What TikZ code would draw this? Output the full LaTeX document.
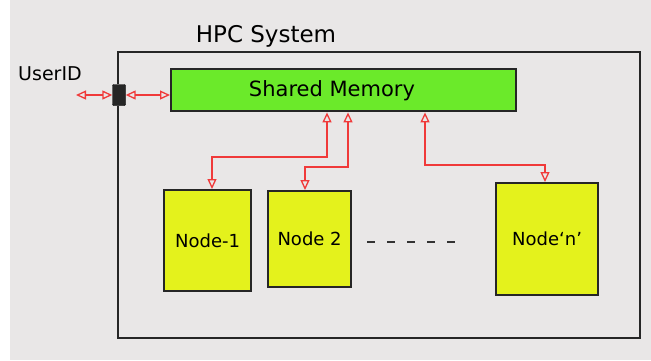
\documentclass[tikz,border=0pt]{standalone}
\usepackage{fontspec}
\setmainfont{DejaVu Sans}
\usetikzlibrary{arrows.meta}
\definecolor{paper}{HTML}{E9E7E7}
\definecolor{memgreen}{HTML}{6BEA2A}
\definecolor{nodeyellow}{HTML}{E4F21C}
\definecolor{wire}{HTML}{F03A3A}
\begin{document}
\begin{tikzpicture}[x=1pt,y=-1pt,
  sysbox/.style={draw=black!85,line width=2.4pt},
  membox/.style={draw=black!85,line width=2.4pt,fill=memgreen,minimum width=345pt,minimum height=42pt,inner sep=0pt},
  cpubox/.style={draw=black!85,line width=2.2pt,fill=nodeyellow,inner sep=0pt,font=\fontsize{18}{21}\selectfont},
  portbox/.style={draw=black,fill=black!85,minimum width=13pt,minimum height=21pt,inner sep=0pt,rounded corners=1pt},
  link/.style={draw=wire,line width=1.3pt,{Triangle[open,length=10pt,width=9pt]}-{Triangle[open,length=10pt,width=9pt]}},
  label/.style={inner sep=0pt}]
\fill[paper] (0,0) rectangle (651,360);
\fill[white] (0,0) rectangle (10,360);
\useasboundingbox (0,0) rectangle (651,360);
% system boundary
\node[label,font=\fontsize{23}{27}\selectfont] (title) at (266,36) {HPC System};
\draw[sysbox] (118,84) -- (118,52) -- (640,52) -- (640,338) -- (118,338) -- (118,106);
\node[portbox] (port) at (119,95) {};
\node[label,anchor=west,font=\fontsize{19}{22}\selectfont] (user) at (18,74) {UserID};
\coordinate (userend) at (76,95);
% shared memory
\node[membox,anchor=north west] (mem) at (170,68) {};
\node[label,font=\fontsize{21}{25}\selectfont] (memtext) at (332,91) {Shared Memory};
% compute nodes
\node[cpubox,minimum width=87pt,minimum height=101pt,anchor=north west] (n1) at (163,189) {Node-1};
\node[cpubox,minimum width=83pt,minimum height=96pt,anchor=north west] (n2) at (267,190) {Node 2};
\node[cpubox,minimum width=102pt,minimum height=112pt,anchor=north west] (nn) at (495,182) {Node`n'};
\draw[black!80,line width=1.4pt,dash pattern=on 8pt off 12pt] (367,242) -- (462,242);
% links
\draw[link] (userend) -- (port.west);
\draw[link] (port.east) -- (port.east -| mem.west);
\draw[link] (mem.south -| 327,0) -- (327,157) -- (212,157) -- (n1.north -| 212,0);
\draw[link] (mem.south -| 348,0) -- (348,167) -- (305,167) -- (n2.north -| 305,0);
\draw[link] (mem.south -| 425,0) -- (425,165) -- (545,165) -- (nn.north -| 545,0);
\end{tikzpicture}
\end{document}
